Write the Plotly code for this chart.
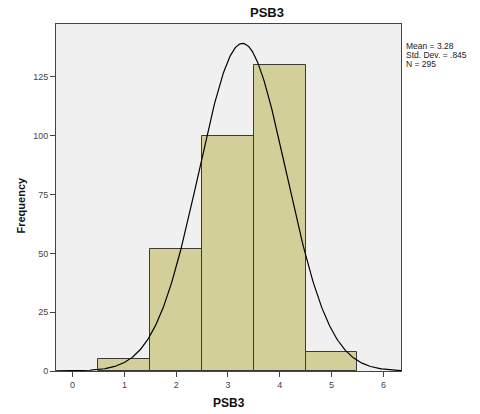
import numpy as np
import plotly.graph_objects as go

# Histogram of PSB3 responses (bin width 1)
scores = [1, 2, 3, 4, 5]
frequency = [5, 52, 100, 130, 8]

# Summary statistics shown beside the chart
mean_val = 3.28
std_dev = 0.845
n_obs = 295
bin_width = 1.0

x_range = [-0.32, 6.34]
y_range = [0, 147.5]

# Normal curve scaled to counts
xs = np.linspace(x_range[0], x_range[1], 400)
ys = n_obs * bin_width / (std_dev * np.sqrt(2 * np.pi)) * np.exp(-0.5 * ((xs - mean_val) / std_dev) ** 2)

font_family = "Liberation Sans, Arial, sans-serif"
axis_col = "#444444"

fig = go.Figure()
fig.add_trace(go.Bar(
    x=scores, y=frequency, width=bin_width,
    marker=dict(color="#D3CF98", line=dict(color="#3A3A3A", width=1)),
    hoverinfo="x+y",
))
fig.add_trace(go.Scatter(
    x=xs, y=ys, mode="lines",
    line=dict(color="#000000", width=1.2),
    hoverinfo="skip",
))

fig.update_layout(
    width=480, height=414,
    margin=dict(l=56, r=79, t=24, b=43, autoexpand=False),
    paper_bgcolor="#FFFFFF",
    plot_bgcolor="#F0F0F0",
    showlegend=False,
    bargap=0,
    font=dict(family=font_family, size=9, color="#333333"),
    xaxis=dict(
        range=x_range, tickvals=[0, 1, 2, 3, 4, 5, 6],
        ticks="outside", ticklen=5, tickcolor=axis_col, tickwidth=1,
        showline=True, linecolor=axis_col, linewidth=1, mirror=True,
        showgrid=False, zeroline=False, automargin=False,
        tickfont=dict(size=9, color="#444444"),
    ),
    yaxis=dict(
        range=y_range, tickvals=[0, 25, 50, 75, 100, 125],
        ticks="outside", ticklen=5, tickcolor=axis_col, tickwidth=1,
        showline=True, linecolor=axis_col, linewidth=1, mirror=True,
        showgrid=False, zeroline=False, automargin=False,
        tickfont=dict(size=9, color="#444444"),
    ),
)

# Chart title and axis titles
fig.add_annotation(
    text="<b>PSB3</b>", xref="paper", yref="paper",
    x=(267 - 56) / 345, y=1.0, yshift=12, xanchor="center", yanchor="middle",
    showarrow=False, font=dict(family=font_family, size=13, color="#111111"),
)
fig.add_annotation(
    text="<b>PSB3</b>", xref="paper", yref="paper",
    x=0.5, y=0.0, yshift=-32, xanchor="center", yanchor="middle",
    showarrow=False, font=dict(family=font_family, size=12, color="#111111"),
)
fig.add_annotation(
    text="<b>Frequency</b>", xref="paper", yref="paper",
    x=0.0, xshift=-36, y=0.5, yshift=-8, xanchor="center", yanchor="middle",
    textangle=-90, showarrow=False,
    font=dict(family=font_family, size=11, color="#111111"),
)

stats_lines = [f"Mean = {mean_val:.2f}", f"Std. Dev. = {str(std_dev)[1:]}", f"N = {n_obs}"]
for i, line in enumerate(stats_lines):
    fig.add_annotation(
        text=line, xref="paper", yref="paper",
        x=1.0, xshift=3, xanchor="left",
        y=1.0, yshift=-(21.5 + i * 9.0), yanchor="middle",
        showarrow=False, align="left",
        font=dict(family=font_family, size=8.5, color="#222222"),
    )

fig.write_html("out.html")
